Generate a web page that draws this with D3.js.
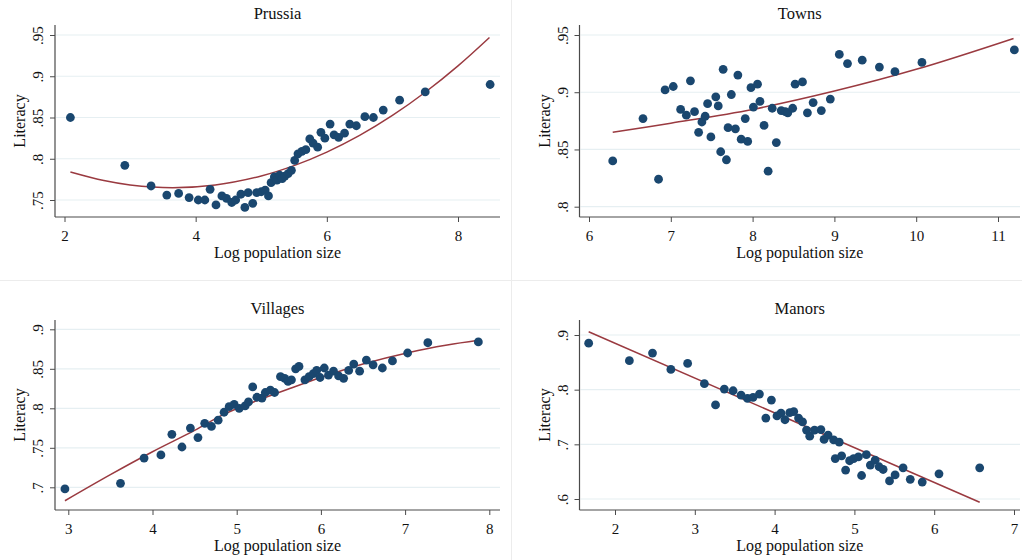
<!DOCTYPE html>
<html>
<head>
<meta charset="utf-8">
<script src="https://cdn.jsdelivr.net/npm/d3@7"></script>
<style>
  html, body { margin: 0; padding: 0; background: #ffffff; }
  svg { display: block; }
  text { font-family: "Liberation Serif", "Times New Roman", serif; fill: #111; }
</style>
</head>
<body>
<svg id="chart" width="1022" height="560"></svg>
<script>
// ---------------- DATA ----------------
const panelTitles = ["Prussia", "Towns", "Villages", "Manors"];
const xAxisTitle = "Log population size";
const yAxisTitle = "Literacy";

// Prussia
const prussiaX = [2.09, 2.92, 3.32, 3.56, 3.74, 3.90, 4.04, 4.14, 4.22, 4.31, 4.40, 4.47, 4.55, 4.61, 4.69, 4.75, 4.80, 4.87, 4.93, 5.00, 5.06, 5.11, 5.15, 5.20, 5.24, 5.28, 5.32, 5.36, 5.41, 5.46, 5.51, 5.56, 5.62, 5.68, 5.74, 5.79, 5.86, 5.91, 5.97, 6.05, 6.11, 6.18, 6.27, 6.35, 6.45, 6.58, 6.71, 6.86, 7.11, 7.50, 8.49];
const prussiaY = [.850, .792, .767, .756, .758, .753, .750, .750, .763, .744, .755, .752, .747, .750, .757, .741, .759, .746, .759, .760, .762, .755, .771, .778, .774, .780, .776, .779, .782, .786, .798, .806, .809, .811, .824, .819, .814, .832, .825, .842, .829, .826, .831, .842, .840, .851, .850, .859, .871, .881, .890];
const prussiaFitX = [2.09, 2.6, 3.0, 3.65, 4.3, 5.0, 5.5, 6.0, 6.5, 7.0, 7.5, 8.0, 8.48];
const prussiaFitY = [.784, .7736, .7683, .765, .7683, .7792, .7917, .8081, .8283, .8525, .8806, .9126, .947];
const prussiaXTicks = [2, 4, 6, 8];
const prussiaYTicks = [.75, .8, .85, .9, .95];
const prussiaYLabels = [".75", ".8", ".85", ".9", ".95"];

// Towns
const townsX = [6.29, 6.66, 6.85, 6.93, 7.03, 7.12, 7.19, 7.24, 7.29, 7.34, 7.38, 7.42, 7.45, 7.49, 7.55, 7.58, 7.61, 7.64, 7.68, 7.70, 7.74, 7.79, 7.82, 7.86, 7.91, 7.94, 7.98, 8.01, 8.06, 8.09, 8.14, 8.19, 8.24, 8.29, 8.35, 8.40, 8.43, 8.49, 8.52, 8.61, 8.67, 8.74, 8.84, 8.95, 9.06, 9.16, 9.34, 9.55, 9.74, 10.07, 11.20];
const townsY = [.840, .877, .824, .902, .905, .885, .880, .910, .883, .865, .874, .879, .890, .861, .896, .888, .848, .920, .841, .869, .898, .868, .915, .859, .877, .857, .904, .887, .907, .892, .871, .831, .886, .856, .884, .883, .882, .886, .907, .909, .882, .891, .884, .894, .933, .925, .928, .922, .918, .926, .937];
const townsFitX = [6.29, 7, 8, 9, 10, 11.19];
const townsFitY = [.865, .873, .885, .901, .920, .947];
const townsXTicks = [6, 7, 8, 9, 10, 11];
const townsYTicks = [.8, .85, .9, .95];
const townsYLabels = [".8", ".85", ".9", ".95"];

// Villages
const villagesX = [2.96, 3.62, 3.90, 4.10, 4.23, 4.35, 4.45, 4.54, 4.62, 4.70, 4.78, 4.85, 4.91, 4.97, 5.03, 5.10, 5.14, 5.19, 5.24, 5.30, 5.34, 5.40, 5.45, 5.52, 5.57, 5.61, 5.65, 5.70, 5.74, 5.81, 5.86, 5.91, 5.95, 5.99, 6.04, 6.09, 6.15, 6.21, 6.27, 6.33, 6.39, 6.46, 6.54, 6.62, 6.73, 6.85, 7.03, 7.27, 7.87];
const villagesY = [.698, .705, .737, .741, .767, .751, .775, .763, .781, .777, .785, .795, .802, .805, .800, .803, .808, .827, .814, .813, .820, .823, .820, .840, .838, .834, .836, .850, .853, .836, .840, .844, .848, .839, .851, .842, .847, .841, .838, .848, .856, .847, .861, .855, .851, .860, .870, .883, .884];
const villagesFitX = [2.96, 3.5, 4.0, 4.5, 4.84, 5.2, 5.63, 6.0, 6.5, 7.06, 7.5, 7.87];
const villagesFitY = [.683, .716, .745, .772, .792, .808, .825, .839, .856, .871, .880, .886];
const villagesXTicks = [3, 4, 5, 6, 7, 8];
const villagesYTicks = [.7, .75, .8, .85, .9];
const villagesYLabels = [".7", ".75", ".8", ".85", ".9"];

// Manors
const manorsX = [1.67, 2.18, 2.47, 2.70, 2.91, 3.12, 3.26, 3.37, 3.48, 3.58, 3.66, 3.73, 3.81, 3.89, 3.96, 4.03, 4.08, 4.13, 4.19, 4.24, 4.30, 4.35, 4.40, 4.44, 4.50, 4.58, 4.62, 4.67, 4.74, 4.81, 4.76, 4.84, 4.89, 4.94, 4.99, 5.05, 5.09, 5.15, 5.20, 5.26, 5.31, 5.36, 5.44, 5.51, 5.61, 5.70, 5.85, 6.06, 6.57];
const manorsY = [.885, .853, .867, .837, .848, .811, .772, .801, .798, .790, .784, .786, .792, .748, .781, .752, .757, .745, .758, .760, .748, .741, .726, .715, .726, .727, .709, .717, .708, .704, .674, .679, .653, .670, .674, .677, .643, .681, .662, .671, .659, .654, .633, .644, .657, .636, .631, .646, .657];
const manorsFitX = [1.67, 6.57];
const manorsFitY = [.906, .594];
const manorsXTicks = [2, 3, 4, 5, 6, 7];
const manorsYTicks = [.6, .7, .8, .9];
const manorsYLabels = [".6", ".7", ".8", ".9"];

// ---------------- LAYOUT ----------------
const COLORS = { dot: "#1a476f", fit: "#9a3a40", axis: "#4a4a4a", grid: "#e6eff2", sep: "#ececec" };

const panels = [
  { title: panelTitles[0], xs: prussiaX, ys: prussiaY, fx: prussiaFitX, fy: prussiaFitY,
    xt: prussiaXTicks, yt: prussiaYTicks, yl: prussiaYLabels,
    left: 55, right: 500, top: 25, bottom: 217,
    xd: [2, 8], xr: [64.5, 458], yd: [.75, .95], yr: [200, 35], curve: d3.curveCatmullRom },
  { title: panelTitles[1], xs: townsX, ys: townsY, fx: townsFitX, fy: townsFitY,
    xt: townsXTicks, yt: townsYTicks, yl: townsYLabels,
    left: 579.5, right: 1020, top: 25, bottom: 217,
    xd: [6, 11], xr: [589, 998], yd: [.8, .95], yr: [206.7, 35], curve: d3.curveCatmullRom },
  { title: panelTitles[2], xs: villagesX, ys: villagesY, fx: villagesFitX, fy: villagesFitY,
    xt: villagesXTicks, yt: villagesYTicks, yl: villagesYLabels,
    left: 55, right: 500, top: 320, bottom: 510,
    xd: [3, 8], xr: [68.3, 489.3], yd: [.7, .9], yr: [487.3, 329.3], curve: d3.curveCatmullRom },
  { title: panelTitles[3], xs: manorsX, ys: manorsY, fx: manorsFitX, fy: manorsFitY,
    xt: manorsXTicks, yt: manorsYTicks, yl: manorsYLabels,
    left: 579.5, right: 1020, top: 320, bottom: 510,
    xd: [2, 7], xr: [615, 1014], yd: [.6, .9], yr: [499, 335], curve: d3.curveLinear }
];

const svg = d3.select("#chart");

// faint separators between the four graphs
svg.append("line").attr("x1", 0).attr("x2", 1022).attr("y1", 280.5).attr("y2", 280.5)
  .attr("stroke", COLORS.sep).attr("stroke-width", 1);
svg.append("line").attr("x1", 511.5).attr("x2", 511.5).attr("y1", 0).attr("y2", 560)
  .attr("stroke", COLORS.sep).attr("stroke-width", 1);

panels.forEach(p => {
  const g = svg.append("g");
  const x = d3.scaleLinear().domain(p.xd).range(p.xr);
  const y = d3.scaleLinear().domain(p.yd).range(p.yr);
  const cx = (p.left + p.right) / 2;
  const cy = (p.top + p.bottom) / 2;

  // gridlines
  g.append("g").selectAll("line").data(p.yt).join("line")
    .attr("x1", p.left + 1).attr("x2", p.right)
    .attr("y1", d => y(d)).attr("y2", d => y(d))
    .attr("stroke", COLORS.grid).attr("stroke-width", 1.2);

  // x axis
  const xAxis = d3.axisBottom(x).tickValues(p.xt).tickSize(5).tickPadding(6)
    .tickFormat(d3.format("d"));
  const gx = g.append("g").attr("transform", `translate(0,${p.bottom})`).call(xAxis);
  gx.select(".domain").remove();
  gx.selectAll(".tick line").attr("stroke", COLORS.axis);
  gx.selectAll(".tick text").attr("font-size", 15).attr("fill", "#111")
    .attr("font-family", "Liberation Serif, Times New Roman, serif")
    .attr("dy", null).attr("y", 24);
  g.append("line").attr("x1", p.left).attr("x2", p.right)
    .attr("y1", p.bottom).attr("y2", p.bottom).attr("stroke", COLORS.axis).attr("stroke-width", 1.2);

  // y axis
  const yAxis = d3.axisLeft(y).tickValues(p.yt).tickSize(5)
    .tickFormat((d, i) => p.yl[i]);
  const gy = g.append("g").attr("transform", `translate(${p.left},0)`).call(yAxis);
  gy.select(".domain").remove();
  gy.selectAll(".tick line").attr("stroke", COLORS.axis);
  gy.selectAll(".tick text")
    .attr("font-size", 15).attr("fill", "#111")
    .attr("font-family", "Liberation Serif, Times New Roman, serif")
    .attr("x", null).attr("dy", null)
    .attr("text-anchor", "middle")
    .attr("transform", "translate(-12,0) rotate(-90)");
  g.append("line").attr("x1", p.left).attr("x2", p.left)
    .attr("y1", p.top).attr("y2", p.bottom).attr("stroke", COLORS.axis).attr("stroke-width", 1.2);

  // fitted curve
  const fitPts = p.fx.map((v, i) => [v, p.fy[i]]);
  g.append("path").datum(fitPts)
    .attr("fill", "none").attr("stroke", COLORS.fit).attr("stroke-width", 1.5)
    .attr("d", d3.line().x(d => x(d[0])).y(d => y(d[1])).curve(p.curve));

  // scatter points
  const pts = p.xs.map((v, i) => [v, p.ys[i]]);
  g.append("g").selectAll("circle").data(pts).join("circle")
    .attr("cx", d => x(d[0])).attr("cy", d => y(d[1]))
    .attr("r", 4.4).attr("fill", COLORS.dot);

  // titles
  g.append("text").attr("x", cx).attr("y", p.top - 6)
    .attr("text-anchor", "middle").attr("font-size", 16.5).text(p.title);
  g.append("text").attr("x", cx).attr("y", p.bottom + 41)
    .attr("text-anchor", "middle").attr("font-size", 16).text(xAxisTitle);
  g.append("text")
    .attr("transform", `translate(${p.left - 30},${cy}) rotate(-90)`)
    .attr("text-anchor", "middle").attr("font-size", 16).text(yAxisTitle);
});
</script>
</body>
</html>
